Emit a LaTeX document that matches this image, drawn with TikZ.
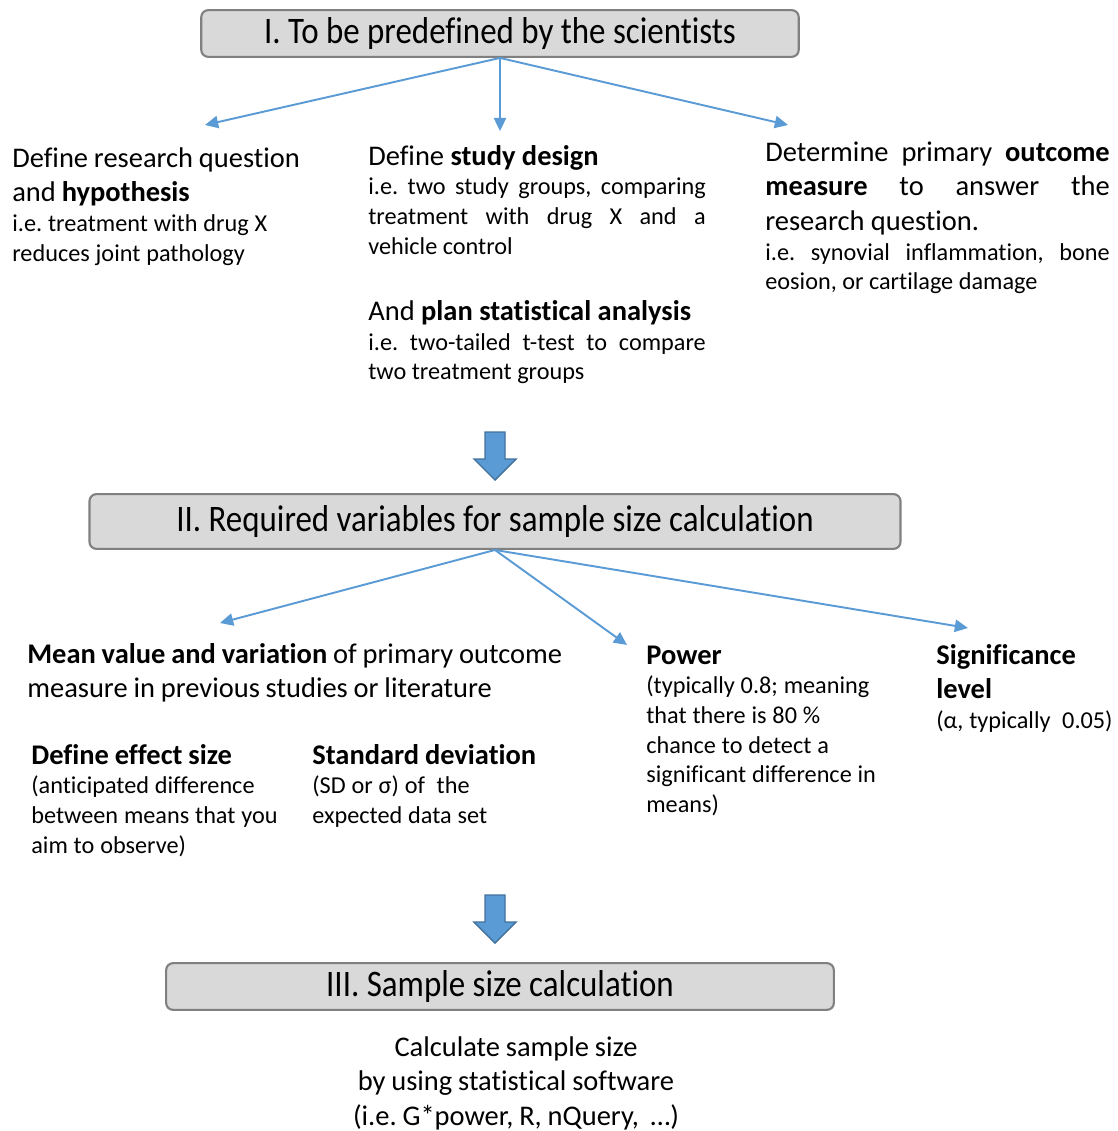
\documentclass[tikz,border=0pt]{standalone}
\usepackage{fontspec}
\setmainfont{Carlito}[Ligatures=NoCommon]
\newfontfamily\stagefont[FakeStretch=0.88,Ligatures=NoCommon]{Carlito}
\usetikzlibrary{arrows.meta}
\definecolor{flowblue}{HTML}{5B9BD5}
\definecolor{flowedge}{HTML}{41719C}
\definecolor{boxgray}{HTML}{D9D9D9}
\definecolor{boxline}{HTML}{808080}
\newcommand{\mainsize}{\fontsize{16.2pt}{19.8pt}\selectfont}
\newcommand{\notesize}{\fontsize{13.8pt}{16.9pt}\selectfont}
\newcommand{\stagesize}{\fontsize{21.3pt}{24pt}\selectfont}
\frenchspacing

\begin{document}
\begin{tikzpicture}[scale=0.2]
\tikzstyle{every node}+=[inner sep=0pt]
\tikzstyle{stagebox}=[draw=boxline, line width=1.2pt, fill=boxgray, rounded corners=4pt, font=\stagefont\stagesize]
\tikzstyle{flow}=[draw=flowblue, line width=1.1pt, -{Triangle[length=7.5pt,width=7pt]}]
\tikzstyle{blockarrow}=[fill=flowblue, draw=flowedge, line width=0.8pt]
\tikzstyle{leftblock}=[anchor=base west, align=left]
\tikzstyle{justblock}=[anchor=base west, align=justify]
\useasboundingbox (0,0) rectangle (111.8,-113.1);
% stage I
\draw (50.0,-3.35) node[stagebox, minimum width=340pt, minimum height=26.6pt] (predef) {I. To be predefined by the scientists};
\draw (1.2,-16.7) node[leftblock, text width=175pt] (question) {{\mainsize Define research question\\ and \textbf{hypothesis}\par}{\notesize i.e. treatment with drug X\\ reduces joint pathology\par}};
\draw (36.8,-16.5) node[justblock, text width=192pt] (design) {{\mainsize Define \textbf{study design}\par}{\notesize i.e. two study groups, comparing\linebreak treatment with drug X and a\linebreak vehicle control\par}\vspace{18pt}{\mainsize And \textbf{plan statistical analysis}\par}{\notesize i.e. two-tailed t-test to compare\linebreak two treatment groups\par}};
\draw (76.5,-16.1) node[justblock, text width=196pt] (outcome) {{\mainsize Determine primary \textbf{outcome}\linebreak \textbf{measure} to answer the\linebreak research question.\par}{\notesize i.e. synovial inflammation, bone\linebreak eosion, or cartilage damage\par}};
\coordinate (hyptip) at (20.5,-12.5);
\coordinate (destip) at (50.0,-13.1);
\coordinate (outtip) at (78.8,-12.5);
\draw[flow] (predef.south) -- (hyptip);
\draw[flow] (predef.south) -- (destip);
\draw[flow] (predef.south) -- (outtip);
% stage II
\draw[blockarrow] (48.5,-43.2) -- (50.5,-43.2) -- (50.5,-45.9) -- (51.6,-45.9) -- (49.5,-48.0) -- (47.4,-45.9) -- (48.5,-45.9) -- cycle;
\draw (49.5,-52.15) node[stagebox, minimum width=461.5pt, minimum height=31.2pt] (required) {II. Required variables for sample size calculation};
\draw (2.7,-66.3) node[leftblock, text width=320pt] (meanvar) {{\mainsize \textbf{Mean value and variation} of primary outcome\\ measure in previous studies or literature\par}};
\draw (3.1,-76.4) node[leftblock, text width=150pt] (effect) {{\mainsize\textbf{Define effect size}\par}{\notesize (anticipated difference\\ between means that you\\ aim to observe)\par}};
\draw (31.2,-76.4) node[leftblock, text width=150pt] (sd) {{\mainsize\textbf{Standard deviation}\par}{\notesize (SD or σ) of\ \ the\\ expected data set\par}};
\draw (64.6,-66.4) node[leftblock, text width=150pt] (power) {{\mainsize\textbf{Power}\par}{\notesize (typically 0.8; meaning\\ that there is 80~\%\\ chance to detect a\\ significant difference in\\ means)\par}};
\draw (93.6,-66.4) node[leftblock, text width=125pt] (siglevel) {{\mainsize\textbf{Significance}\\ \textbf{level}\par}{\notesize (α, typically\ \ 0.05)\par}};
\coordinate (mvtip) at (22.0,-62.3);
\coordinate (pwtip) at (62.7,-64.5);
\coordinate (sigtip) at (96.8,-62.8);
\draw[flow] (required.south) -- (mvtip);
\draw[flow] (required.south) -- (pwtip);
\draw[flow] (required.south) -- (sigtip);
% stage III
\draw[blockarrow] (48.5,-89.5) -- (50.5,-89.5) -- (50.5,-92.2) -- (51.6,-92.2) -- (49.5,-94.3) -- (47.4,-92.2) -- (48.5,-92.2) -- cycle;
\draw (50.0,-98.65) node[stagebox, minimum width=380pt, minimum height=26.6pt] (calc) {III. Sample size calculation};
\draw (51.6,-105.6) node[anchor=base, align=center, text width=250pt] (software) {\mainsize Calculate sample size\\ by using statistical software\\ (i.e. G*power, R, nQuery,\ \ …)\par};
\end{tikzpicture}
\end{document}
